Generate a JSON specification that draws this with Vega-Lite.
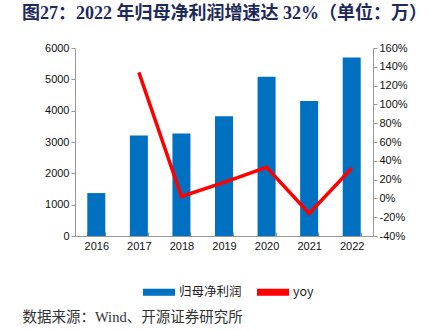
{
  "$schema": "https://vega.github.io/schema/vega-lite/v6.json",
  "width": 298,
  "height": 188,
  "autosize": {"type": "none"},
  "padding": {"left": 75, "top": 48, "right": 68, "bottom": 94},
  "background": "white",
  "title": {
    "text": "图27：2022 年归母净利润增速达 32%（单位：万）",
    "anchor": "start",
    "frame": "group",
    "dx": -53,
    "offset": 19,
    "font": "Liberation Serif, Noto Sans CJK SC",
    "fontSize": 18,
    "fontWeight": "bold",
    "color": "#1f2a5c"
  },
  "data": {
    "values": [
      {"year": "2016", "profit": 1370, "yoy": null},
      {"year": "2017", "profit": 3210, "yoy": 134},
      {"year": "2018", "profit": 3270, "yoy": 2},
      {"year": "2019", "profit": 3820, "yoy": 17},
      {"year": "2020", "profit": 5080, "yoy": 33},
      {"year": "2021", "profit": 4310, "yoy": -16},
      {"year": "2022", "profit": 5700, "yoy": 32}
    ]
  },
  "encoding": {
    "x": {
      "field": "year",
      "type": "ordinal",
      "scale": {"paddingInner": 0.58, "paddingOuter": 0.29},
      "axis": {
        "title": "数据来源：Wind、开源证券研究所",
        "titleAnchor": "start",
        "titleAlign": "left",
        "titleX": -53,
        "titleY": 85,
        "titleBaseline": "alphabetic",
        "titleFont": "Liberation Serif, Noto Sans CJK SC",
        "titleFontSize": 14.5,
        "titleFontWeight": "normal",
        "titleColor": "#333333",
        "labelAngle": 0,
        "labelPadding": 8,
        "tickBand": "extent",
        "tickSize": -4,
        "domainColor": "#999999",
        "tickColor": "#999999"
      }
    }
  },
  "layer": [
    {
      "mark": {"type": "bar", "size": 18},
      "encoding": {
        "y": {
          "field": "profit",
          "type": "quantitative",
          "scale": {"domain": [0, 6000]},
          "axis": {"title": null, "format": "d", "values": [0, 1000, 2000, 3000, 4000, 5000, 6000], "orient": "left"}
        },
        "color": {"datum": "归母净利润"}
      }
    },
    {
      "mark": {"type": "line", "strokeWidth": 3.5},
      "encoding": {
        "y": {
          "field": "yoy",
          "type": "quantitative",
          "scale": {"domain": [-40, 160]},
          "axis": {
            "title": null,
            "orient": "right",
            "values": [-40, -20, 0, 20, 40, 60, 80, 100, 120, 140, 160],
            "labelExpr": "datum.value + '%'"
          }
        },
        "color": {"datum": "yoy"}
      }
    }
  ],
  "resolve": {"scale": {"y": "independent"}},
  "config": {
    "view": {"stroke": null},
    "axis": {
      "grid": false,
      "labelFont": "Liberation Sans",
      "labelFontSize": 11,
      "labelColor": "#111111",
      "domainColor": "#999999",
      "tickColor": "#999999",
      "tickSize": 4
    },
    "range": {"category": ["#0070c0", "#ff0000"]},
    "legend": {
      "orient": "none",
      "direction": "horizontal",
      "legendX": 68,
      "legendY": 228,
      "title": null,
      "labelFont": "Noto Sans CJK SC",
      "labelFontSize": 12.5,
      "labelColor": "#222222",
      "symbolSize": 1024,
      "symbolType": "M-1,-0.22H1V0.22H-1Z",
      "symbolStrokeWidth": 0,
      "labelOffset": 4,
      "columnPadding": 15
    }
  }
}
